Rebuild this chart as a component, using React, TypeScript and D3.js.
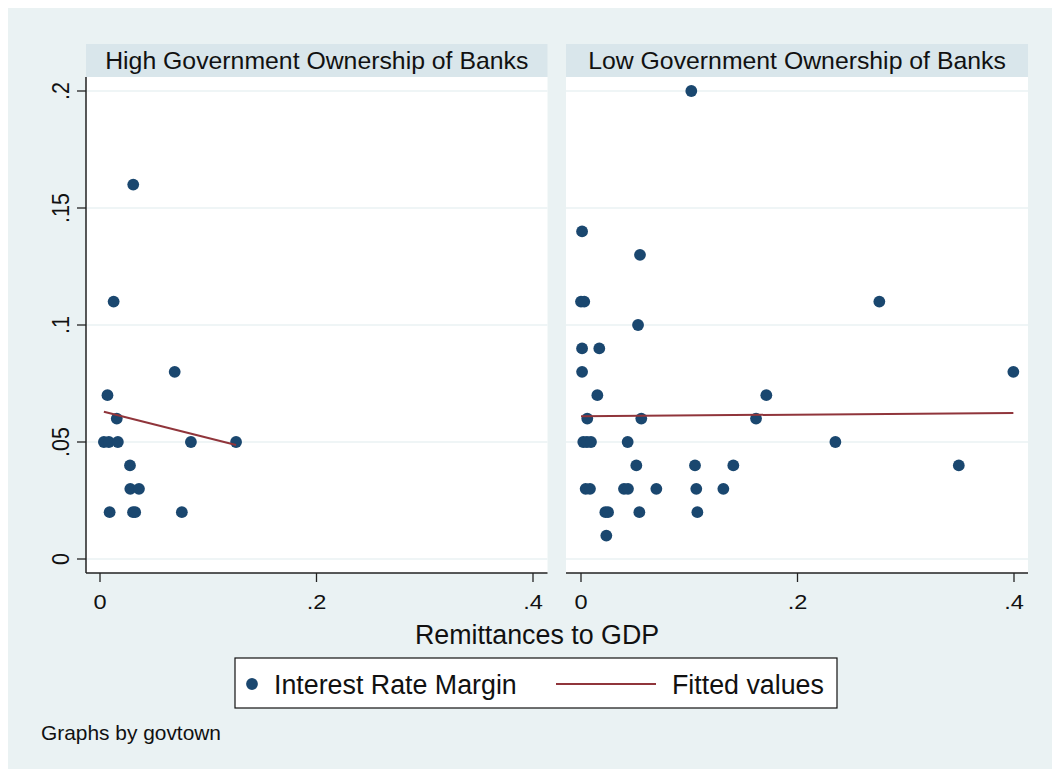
import * as React from 'react';
import * as d3 from 'd3';

// Interest rate margin vs remittances to GDP, by government ownership of banks
const panelTitles = ['High Government Ownership of Banks', 'Low Government Ownership of Banks'];

const highX = [0.0307, 0.0126, 0.069, 0.0069, 0.0155, 0.0036, 0.0082, 0.0165, 0.084, 0.1257, 0.0277, 0.028, 0.036, 0.0089, 0.0305, 0.0325, 0.0756];
const highY = [0.16, 0.11, 0.08, 0.07, 0.06, 0.05, 0.05, 0.05, 0.05, 0.05, 0.04, 0.03, 0.03, 0.02, 0.02, 0.02, 0.02];

const lowX = [0.1019, 0.001, 0.0545, 0.0, 0.003, 0.2756, 0.0527, 0.001, 0.0169, 0.001, 0.3994, 0.0151, 0.1712,
    0.0058, 0.0557, 0.1617, 0.0021, 0.0055, 0.0092, 0.0431, 0.235, 0.0511, 0.1053, 0.1407, 0.349,
    0.0043, 0.0083, 0.0397, 0.0434, 0.0696, 0.1065, 0.1315, 0.0225, 0.025, 0.0539, 0.1075, 0.0234];
const lowY = [0.2, 0.14, 0.13, 0.11, 0.11, 0.11, 0.1, 0.09, 0.09, 0.08, 0.08, 0.07, 0.07,
    0.06, 0.06, 0.06, 0.05, 0.05, 0.05, 0.05, 0.05, 0.04, 0.04, 0.04, 0.04,
    0.03, 0.03, 0.03, 0.03, 0.03, 0.03, 0.03, 0.02, 0.02, 0.02, 0.02, 0.01];

// fitted values at the ends of each panel's x range
const highFitX = [0.0036, 0.1257];
const highFitY = [0.0629, 0.0487];
const lowFitX = [0.0, 0.3994];
const lowFitY = [0.061, 0.0624];

const yTicks = [0, 0.05, 0.1, 0.15, 0.2];
const xTicks = [0, 0.2, 0.4];
const xTitle = 'Remittances to GDP';
const legendLabels = ['Interest Rate Margin', 'Fitted values'];
const note = 'Graphs by govtown';

const BG = '#EAF2F3';
const STRIP = '#D9E6EB';
const DOT = '#1A476F';
const FIT = '#90353B';
const FONT = '"Liberation Sans", Arial, Helvetica, sans-serif';

const fmt = (v: number) => (v === 0 ? '0' : String(v).replace(/^0/, ''));

const panels = [
    { title: panelTitles[0], xs: highX, ys: highY, fx: highFitX, fy: highFitY, left: 86, right: 547.5, x0: 100 },
    { title: panelTitles[1], xs: lowX, ys: lowY, fx: lowFitX, fy: lowFitY, left: 566, right: 1028, x0: 581 },
];

const TOP = 44, STRIP_B = 77, AXIS_Y = 573;

export default function App() {
    const y = d3.scaleLinear().domain([0, 0.2]).range([559, 91]);

    return (
        <svg width={1052} height={769} style={{ position: 'absolute', left: 0, top: 0, display: 'block' }} fontFamily={FONT}>
            <rect x={8} y={8} width={1044} height={761} fill={BG} />
            {panels.map((p, pi) => {
                const x = d3.scaleLinear().domain([0, 0.4]).range([p.x0, p.x0 + 433]);
                const line = d3.line<number>().x((d) => x(p.fx[d])).y((d) => y(p.fy[d]));
                return (
                    <g key={pi}>
                        <rect x={p.left} y={TOP} width={p.right - p.left} height={STRIP_B - TOP} fill={STRIP} />
                        <text x={(p.left + p.right) / 2} y={68.5} textAnchor="middle" fontSize={24.8} fill="#111">{p.title}</text>
                        <rect x={p.left} y={STRIP_B} width={p.right - p.left} height={AXIS_Y - STRIP_B} fill="#fff" />
                        {yTicks.map((t) => (
                            <line key={t} x1={p.left} x2={p.right} y1={y(t)} y2={y(t)} stroke={BG} strokeWidth={1.6} />
                        ))}
                        {p.xs.map((v, i) => (
                            <circle key={i} cx={x(v)} cy={y(p.ys[i])} r={5.9} fill={DOT} />
                        ))}
                        <path d={line([0, 1]) || ''} stroke={FIT} strokeWidth={2} fill="none" />
                        <line x1={p.left} x2={p.right} y1={AXIS_Y} y2={AXIS_Y} stroke="#222" strokeWidth={1.5} />
                        {xTicks.map((t) => (
                            <g key={t}>
                                <line x1={x(t)} x2={x(t)} y1={AXIS_Y} y2={AXIS_Y + 9} stroke="#222" strokeWidth={1.3} />
                                <text transform={`translate(${x(t)},609) scale(1.15,1)`} textAnchor="middle" fontSize={20.5} fill="#111">{fmt(t)}</text>
                            </g>
                        ))}
                        {pi === 0 && (
                            <g>
                                <line x1={p.left} x2={p.left} y1={STRIP_B} y2={AXIS_Y} stroke="#222" strokeWidth={1.5} />
                                {yTicks.map((t) => (
                                    <g key={t}>
                                        <line x1={p.left - 9} x2={p.left} y1={y(t)} y2={y(t)} stroke="#222" strokeWidth={1.3} />
                                        <text transform={`translate(68.5,${y(t)}) rotate(-90) scale(1,1.12)`} textAnchor="middle" fontSize={21.5} fill="#111">{fmt(t)}</text>
                                    </g>
                                ))}
                            </g>
                        )}
                    </g>
                );
            })}
            <text x={537} y={644} textAnchor="middle" fontSize={26.8} fill="#111">{xTitle}</text>
            <rect x={235} y={658} width={602} height={50} fill="#fff" stroke="#111" strokeWidth={1.2} />
            <circle cx={252} cy={684} r={5.9} fill={DOT} />
            <text x={274} y={694} fontSize={26.8} fill="#111">{legendLabels[0]}</text>
            <line x1={556} x2={656} y1={684} y2={684} stroke={FIT} strokeWidth={2} />
            <text x={672} y={694} fontSize={26.8} fill="#111">{legendLabels[1]}</text>
            <text x={41} y={740} fontSize={20.9} fill="#111">{note}</text>
        </svg>
    );
}
